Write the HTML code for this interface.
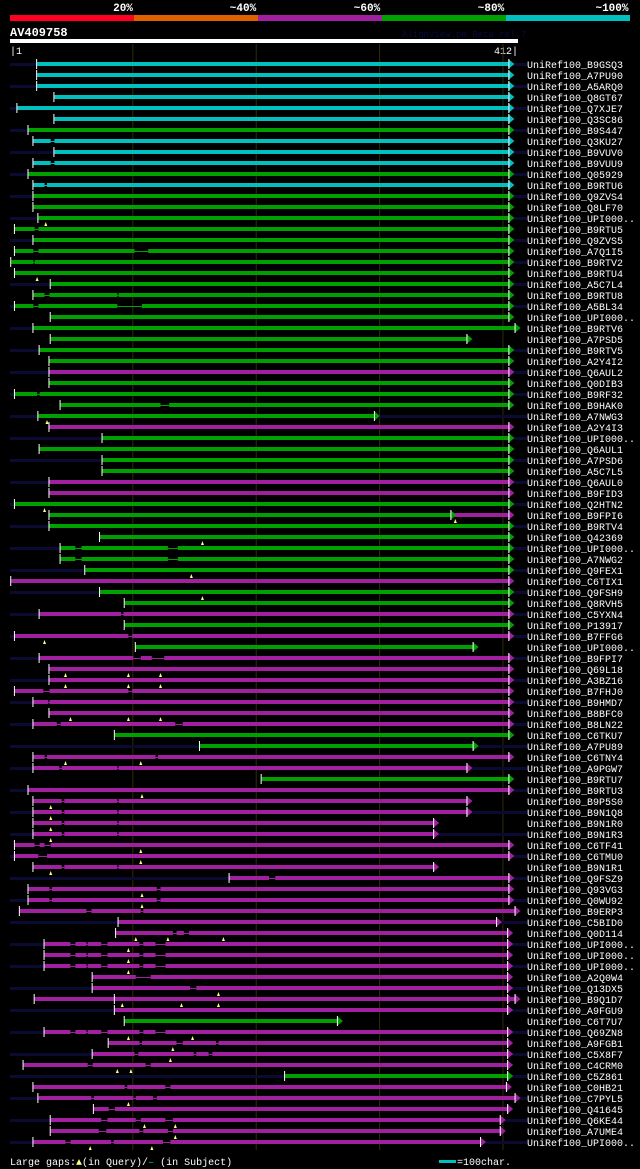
<!DOCTYPE html>
<html><head><meta charset="utf-8">
<style>
html,body{margin:0;padding:0;background:#000;width:640px;height:1169px;overflow:hidden}
svg{display:block}
text{font-family:"Liberation Mono",monospace}
</style></head>
<body>
<svg id="chart" width="640" height="1169" xmlns="http://www.w3.org/2000/svg">
  <g>
    <rect x="10" y="15" width="124" height="6" fill="#ff0020"/>
    <rect x="134" y="15" width="124" height="6" fill="#e06000"/>
    <rect x="258" y="15" width="124" height="6" fill="#a020a0"/>
    <rect x="382" y="15" width="124" height="6" fill="#00a000"/>
    <rect x="506" y="15" width="124" height="6" fill="#00c0c0"/>
    <g font-size="11" font-weight="bold" fill="#fff" text-anchor="middle">
      <text x="123" y="11">20%</text>
      <text x="243" y="11">~40%</text>
      <text x="367" y="11">~60%</text>
      <text x="491" y="11">~80%</text>
      <text x="612" y="11">~100%</text>
    </g>
  </g>
  <text x="10" y="36" font-size="12" font-weight="bold" fill="#fff">AV409758</text>
  <text x="402" y="37" font-size="9" fill="#0a0a40">AlignView.pm Beta rel.7</text>
  <rect x="10" y="39" width="508" height="4" fill="#fff"/>
  <text x="10" y="54" font-size="10" fill="#fff">|1</text>
  <text x="518" y="54" font-size="10" fill="#fff" text-anchor="end">412|</text>
  <g id="grid"></g>
  <g id="rows"></g>
  <g font-size="10" fill="#fff">
    <text x="10" y="1165">Large gaps:<tspan fill="#ffff80">▲</tspan>(in Query)/<tspan fill="#00c0c0">–</tspan> (in Subject)</text>
    <rect x="439" y="1160" width="17" height="3" fill="#00c0c0"/>
    <text x="457" y="1165">=100char.</text>
  </g>
</svg>
<script>
const labels=["B9GSQ3","A7PU90","A5ARQ0","Q8GT67","Q7XJE7","Q3SC86","B9S447","Q3KU27","B9VUV0","B9VUU9","Q05929","B9RTU6","Q9ZVS4","Q8LF70","UPI000..","B9RTU5","Q9ZVS5","A7Q1I5","B9RTV2","B9RTU4","A5C7L4","B9RTU8","A5BL34","UPI000..","B9RTV6","A7PSD5","B9RTV5","A2Y4I2","Q6AUL2","Q0DIB3","B9RF32","B9HAK0","A7NWG3","A2Y4I3","UPI000..","Q6AUL1","A7PSD6","A5C7L5","Q6AUL0","B9FID3","Q2HTN2","B9FPI6","B9RTV4","Q42369","UPI000..","A7NWG2","Q9FEX1","C6TIX1","Q9FSH9","Q8RVH5","C5YXN4","P13917","B7FFG6","UPI000..","B9FPI7","Q69L18","A3BZ16","B7FHJ0","B9HMD7","B8BFC0","B8LN22","C6TKU7","A7PU89","C6TNY4","A9PGW7","B9RTU7","B9RTU3","B9P5S0","B9N1Q8","B9N1R0","B9N1R3","C6TF41","C6TMU0","B9N1R1","Q9FSZ9","Q93VG3","Q0WU92","B9ERP3","C5BID0","Q0D114","UPI000..","UPI000..","UPI000..","A2Q0W4","Q13DX5","B9Q1D7","A9FGU9","C6T7U7","Q69ZN8","A9FGB1","C5X8F7","C4CRM0","C5Z861","C0HB21","C7PYL5","Q41645","Q6KE44","A7UME4","UPI000.."];
const starts=[22,22,22,36,6,36,15,19,36,19,15,19,19,19,23,4,19,4,1,4,33,19,4,33,19,33,24,32,32,32,4,41,23,32,75,24,75,75,32,32,4,32,32,73,41,41,61,1,73,93,24,93,4,102,24,32,32,4,19,32,19,85,154,19,19,204,15,19,19,19,19,4,4,19,178,15,15,8,88,86,28,28,28,67,67,20,85,93,28,80,67,11,223,19,23,68,33,33,19];
const ends=[404,404,404,404,404,404,404,404,404,404,404,404,404,404,404,404,404,404,404,404,404,404,404,404,409,370,404,404,404,404,404,404,295,404,404,404,404,404,404,404,404,357,404,404,404,404,404,404,404,404,404,404,404,375,404,404,404,404,404,404,404,404,375,404,370,404,404,370,370,343,343,404,404,343,404,404,404,409,394,403,403,403,403,403,403,403,403,265,403,403,403,403,403,402,409,403,397,397,381];
const colorCodes=["c","c","c","c","c","c","g","c","c","c","g","c","g","g","g","g","g","g","g","g","g","g","g","g","g","g","g","g","m","g","g","g","g","m","g","g","g","g","m","m","g","g","g","g","g","g","g","m","g","g","m","g","m","g","m","m","m","m","m","m","m","g","g","m","m","g","m","m","m","m","m","m","m","m","m","m","m","m","m","m","m","m","m","m","m","m","m","g","m","m","m","m","g","m","m","m","m","m","m"];
const overhangL=[1,0,1,0,1,0,1,0,1,0,1,0,1,0,1,0,1,0,0,0,1,0,1,0,1,0,1,0,1,0,1,0,1,0,1,0,1,0,1,0,1,0,1,0,1,0,1,0,1,0,1,0,1,0,1,0,1,0,1,0,1,0,1,0,1,0,1,0,1,0,1,0,1,0,1,0,1,0,1,0,1,0,1,0,1,0,1,0,1,0,1,0,1,0,1,0,1,0,1];
const overhangR=[1,0,1,0,1,0,1,0,1,0,1,0,1,0,1,0,1,0,1,0,1,0,1,0,0,0,1,0,1,0,1,0,1,0,1,0,1,0,1,0,1,0,1,0,1,0,1,0,1,0,1,0,1,0,1,0,1,0,1,0,1,0,1,0,1,0,1,0,1,0,1,0,1,0,1,0,1,0,1,0,1,0,1,0,1,0,1,0,1,0,1,0,1,0,1,0,1,0,1];
const gaps={7:[[33,36]],9:[[33,36]],11:[[28,30]],15:[[20,23]],17:[[19,23],[101,112]],18:[[19,20]],21:[[28,32],[87,88]],22:[[19,23],[87,107]],30:[[22,24]],31:[[122,129]],44:[[53,58],[128,136]],45:[[53,58],[128,136]],50:[[90,92]],52:[[96,99]],54:[[100,106],[115,125]],57:[[27,32],[96,99]],58:[[31,32]],60:[[38,41],[134,140]],63:[[28,30],[118,120]],64:[[40,42],[87,88]],67:[[42,44],[87,88]],68:[[42,44],[87,88]],69:[[42,44],[87,88]],70:[[42,44],[87,88]],71:[[20,24],[28,33]],72:[[23,30]],73:[[42,44],[87,88]],74:[[210,215]],75:[[32,34],[119,122]],76:[[32,34],[119,122]],77:[[62,66],[106,108]],79:[[132,135],[141,145]],80:[[49,53],[62,63],[74,79],[105,108],[118,126]],81:[[49,53],[62,63],[74,79],[105,108],[118,126]],82:[[49,53],[62,63],[74,79],[105,108],[118,126]],83:[[102,114]],84:[[146,151]],88:[[49,53],[62,63],[74,79],[105,108],[118,126]],89:[[105,107],[135,140],[167,169]],90:[[101,104],[149,151],[161,164]],91:[[63,67],[110,114]],93:[[93,95],[126,130]],94:[[66,68],[100,102],[116,119]],95:[[80,85]],96:[[74,79],[102,106],[126,132]],97:[[72,78],[105,108],[128,132]],98:[[45,49],[82,84],[124,130]]};
const markers={14:[29],19:[22],32:[30],40:[28],41:[361],43:[156],46:[147],48:[156],52:[28],55:[45,96,122],56:[45,96,122],59:[49,96,122],63:[45,106],66:[107],67:[33],68:[33],69:[33],70:[33],71:[106],72:[106],73:[33],75:[107],76:[107],79:[102,128,173],80:[96],81:[96],82:[96],84:[169],85:[91,139,169],88:[96,148],89:[132],90:[130],91:[87,98],94:[96],96:[109,134],97:[134],98:[65,115]};
const extraSegments={41:[[360,404,"m"]],85:[[85,409,"m"]]};
const extraTicks={85:[85]};
const gridTicks=[100,200,300,400];

const NS="http://www.w3.org/2000/svg";
const xs=r=>10+r*1.2336;
const ys=i=>64+i*11;
const palette={c:"#00c0c0",g:"#00a000",m:"#a020a0"};
function mk(tag,attrs,parent){const e=document.createElementNS(NS,tag);for(const k in attrs)e.setAttribute(k,attrs[k]);parent.appendChild(e);return e;}
const grid=document.getElementById('grid');
gridTicks.forEach(t=>{
  const l=mk('line',{x1:xs(t)-0.5,x2:xs(t)-0.5,y1:44,y2:1150,stroke:'#2e2e08','stroke-width':1},grid);
  
  
});
const rows=document.getElementById('rows');
function arrow(g,x1,y,c){
  const ar=mk('polygon',{points:`${x1},${y-5} ${x1+6},${y} ${x1},${y+5}`,fill:c},g);
  
  
  const ae=mk('line',{x1:x1+0.5,x2:x1+0.5,y1:y-5,y2:y+5,stroke:'#fff','stroke-width':1},g);
  
  
}
labels.forEach((lab,i)=>{
  const g=mk('g',{},rows);
  
  
  const y=ys(i), c=palette[colorCodes[i]];
  const x0=xs(starts[i]), x1=xs(ends[i]);
  let maxEnd=x1;
  (extraSegments[i]||[]).forEach(s=>{maxEnd=Math.max(maxEnd,xs(s[1]));});
  if(overhangL[i]){const n=mk('rect',{x:10,y:y-1,width:Math.max(0,x0-10),height:3,fill:'#0a0a33'},g);
    
    }
  if(overhangR[i]){const n=mk('rect',{x:maxEnd+5,y:y-1,width:Math.max(0,527-maxEnd-5),height:3,fill:'#0a0a33'},g);
    
    }
  (extraSegments[i]||[]).forEach(s=>{
    const ec=palette[s[2]];
    const r=mk('rect',{x:xs(s[0]),y:y-2,width:xs(s[1])-xs(s[0]),height:4,fill:ec},g);
    
    
    arrow(g,xs(s[1]),y,ec);
  });
  const gl=(gaps[i]||[]).slice().sort((a,b)=>a[0]-b[0]);
  let cur=starts[i];
  const segs=[];
  gl.forEach(gp=>{segs.push([cur,gp[0]]);cur=gp[1];});
  segs.push([cur,ends[i]]);
  segs.forEach(s=>{const r=mk('rect',{x:xs(s[0]),y:y-2,width:Math.max(0,xs(s[1])-xs(s[0])),height:4,fill:c},g);
    
    });
  gl.forEach(gp=>{const r=mk('rect',{x:xs(gp[0]),y:y,width:xs(gp[1])-xs(gp[0]),height:1,fill:c},g);
    
    });
  const tk=mk('rect',{x:x0-1,y:y-5,width:1,height:10,fill:'#fff'},g);
  
  
  (extraTicks[i]||[]).forEach(t=>{const e=mk('rect',{x:xs(t)-1,y:y-5,width:1,height:10,fill:'#fff'},g);
    
    });
  arrow(g,x1,y,c);
  (markers[i]||[]).forEach(m=>{const mm=mk('polygon',{points:`${xs(m)-1.5},${y+8} ${xs(m)},${y+4} ${xs(m)+1.5},${y+8}`,fill:'#ffff80'},g);
    
    });
  const t=mk('text',{x:527,y:y+4,'font-size':10,fill:'#fff'},g);
  
  
  t.textContent='UniRef100_'+lab;
});
</script>
</body></html>
